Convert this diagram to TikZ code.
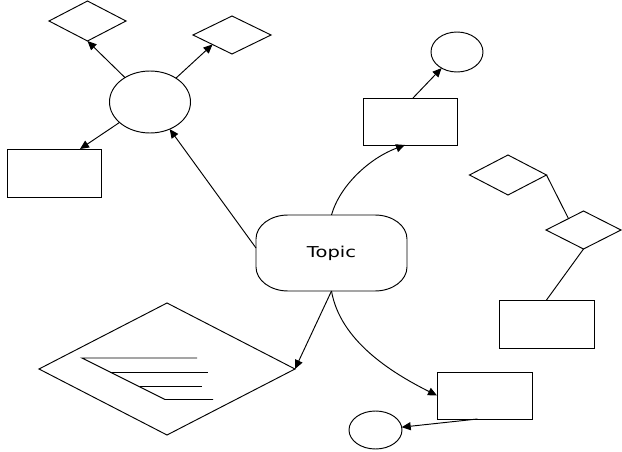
\documentclass[tikz,border=0pt]{standalone}
\usepackage{fontspec}
\newfontfamily\topicfont{DejaVu Sans}
\usetikzlibrary{shapes.geometric,arrows.meta,calc}
\begin{document}
\begin{tikzpicture}[x=1pt,y=-1pt,
  line width=0.95pt,
  every node/.style={inner sep=0pt, outer sep=0pt},
  box/.style={draw, rectangle, minimum width=94pt, minimum height=47pt},
  ell/.style={draw, ellipse},
  dia/.style={draw, diamond},
  arr/.style={-{Triangle[length=9pt,width=8pt]}}]
\useasboundingbox (0,0) rectangle (622,452);
% nodes
\node[dia, minimum width=77pt, minimum height=40pt] (d1) at (87.5,21) {};
\node[dia, minimum width=78pt, minimum height=38pt] (d2) at (232,35) {};
\node[ell, minimum width=81pt, minimum height=62pt] (e1) at (150,102) {};
\node[box, minimum height=48pt] (r1) at (54,173) {};
\node[box] (r2) at (410,121.5) {};
\node[ell, minimum width=52pt, minimum height=40pt] (c1) at (457,52) {};
\node[dia, minimum width=77pt, minimum height=40pt] (d3) at (508,175) {};
\node[dia, minimum width=75pt, minimum height=38pt] (d4) at (583.5,230) {};
\node[box, minimum width=95pt, minimum height=48pt] (r3) at (546.5,324) {};
\node[box, minimum width=95pt] (r4) at (484.5,395.5) {};
\node[ell, minimum width=53pt, minimum height=38pt] (c2) at (375.5,430) {};
\node[dia, minimum width=256pt, minimum height=132pt] (bd) at (167,369) {};
\node[minimum width=151pt, minimum height=76pt] (topic) at (331.5,253)
  {\scalebox{1.3}[1]{\fontsize{15pt}{18pt}\topicfont Topic}};
% topic outline (rounded with elliptical corners)
\draw (288,215) -- (375,215)
  arc[start angle=90, end angle=0, x radius=32pt, y radius=24pt] -- (407,267)
  arc[start angle=0, end angle=-90, x radius=32pt, y radius=24pt] -- (288,291)
  arc[start angle=270, end angle=180, x radius=32pt, y radius=24pt] -- (256,239)
  arc[start angle=180, end angle=90, x radius=32pt, y radius=24pt] -- cycle;
% lines inside the big diamond
\draw (197,358) -- (82,358) -- (165,399.5) -- (213,399.5);
\draw (110,372) -- (208,372);
\draw (140,386) -- (202,386);
% connectors
\draw[arr] (e1) -- (d1.south);
\draw[arr] (e1) -- ($(d2.west)!0.5!(d2.south)$);
\draw[arr] (e1) -- ([xshift=26pt]r1.north);
\draw[arr] ([yshift=5pt]topic.west) -- (e1);
\draw[arr] (topic.north) .. controls (340,185) and (370,158) .. ([xshift=-5pt]r2.south);
\draw[arr] ([xshift=3pt]r2.north) -- (c1);
\draw[arr] (topic.south) -- (bd.east);
\draw[arr] (topic.south) .. controls (340,340) and (390,372) .. (r4.west);
\draw[arr] ([xshift=-7pt]r4.south) -- (c2);
\draw (d3.east) -- ($(d4.west)!0.6!(d4.north)$);
\draw (d4.south) -- (r3.north);
\end{tikzpicture}
\end{document}
